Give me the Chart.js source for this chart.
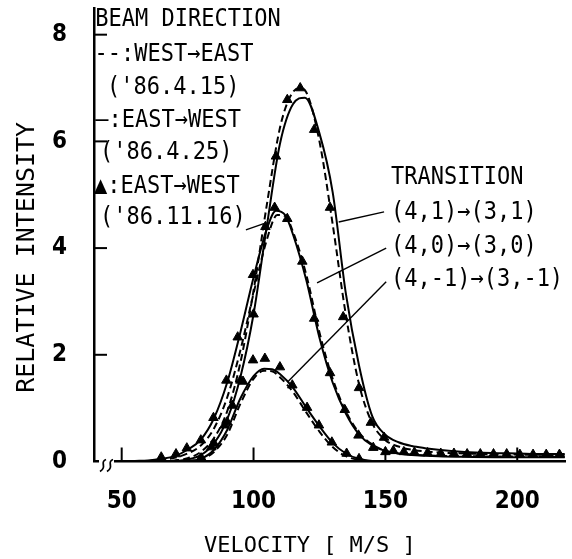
<!DOCTYPE html>
<html><head><meta charset="utf-8">
<script src="https://cdn.jsdelivr.net/npm/chart.js@4"></script>
<style>html,body{margin:0;padding:0;background:#fff}canvas{display:block}</style>
</head><body>
<canvas id="c" width="572" height="559"></canvas>
<script>
// ---- tick labels / titles ----
const xTicks = [50, 100, 150, 200];
const yTicks = [0, 2, 4, 6, 8];
const xTitle = 'VELOCITY [ M/S ]';
const yTitle = 'RELATIVE INTENSITY';

// ---- (4,1)->(3,1) ----
const dashed41 = [[65,0],[70,0.02],[75,0.06],[80,0.18],[85,0.44],[90,0.94],[95,1.85],[100,3.2],[105,4.8],[110,6.25],[114,6.85],[117.5,7.0],[120,6.92],[125,6.0],[130,4.45],[135,2.75],[140,1.45],[145,0.72],[150,0.4],[155,0.28],[160,0.22],[170,0.17],[180,0.15],[190,0.14],[200,0.13],[218,0.12]];
const solid41 = [[65,0],[70,0.01],[75,0.04],[80,0.12],[85,0.34],[90,0.79],[95,1.58],[100,2.76],[105,4.4],[110,5.95],[115,6.7],[119.5,6.82],[125,6.15],[130,5.05],[135,3.15],[140,1.8],[145,0.85],[150,0.5],[155,0.36],[160,0.29],[165,0.25],[170,0.22],[180,0.18],[190,0.16],[200,0.15],[210,0.14],[218,0.14]];
const tri41 = [[80,0.06],[85,0.34],[90,0.74],[95,1.52],[100,2.76],[104.5,4.4],[108.5,5.72],[112.8,6.78],[117.7,7.0],[123,6.22],[129,4.76],[134,2.71],[140,1.38],[144.5,0.73],[149.5,0.45],[153,0.2],[157,0.18],[161,0.17],[166,0.16],[171,0.15],[176,0.15],[181,0.14],[186,0.14],[191,0.14],[196,0.14],[201,0.13],[206,0.13],[211,0.13],[216,0.13]];

// ---- (4,0)->(3,0) ----
const dashed40 = [[60,0.01],[65,0.03],[70,0.07],[75,0.15],[80,0.3],[85,0.62],[90,1.2],[95,2.08],[100,3.15],[105,4.15],[109,4.62],[112,4.6],[115,4.3],[120,3.5],[125,2.42],[130,1.55],[135,0.94],[140,0.54],[145,0.32],[150,0.2],[160,0.13],[180,0.1],[218,0.09]];
const solid40 = [[55,0.01],[60,0.02],[65,0.05],[70,0.1],[75,0.22],[80,0.41],[85,0.81],[90,1.48],[95,2.42],[100,3.45],[105,4.35],[108.5,4.7],[112,4.62],[115,4.25],[120,3.4],[125,2.32],[130,1.48],[135,0.9],[140,0.51],[145,0.3],[150,0.2],[155,0.15],[160,0.12],[170,0.1],[180,0.09],[200,0.08],[218,0.08]];
const tri40 = [[65,0.08],[70.6,0.14],[74.7,0.25],[80,0.4],[84.8,0.82],[89.7,1.52],[94,2.33],[99.8,3.5],[108,4.76],[112.8,4.55],[118.5,3.75],[123,2.68],[129,1.66],[134.6,0.97],[139.8,0.49],[145.4,0.26],[150,0.18]];

// ---- (4,-1)->(3,-1) ----
const dashed4m1 = [[75,0.01],[80,0.04],[85,0.18],[90,0.5],[95,1.08],[100,1.55],[104,1.7],[107,1.69],[110,1.58],[115,1.3],[120,0.92],[125,0.56],[130,0.27],[135,0.1],[140,0.03],[145,0]];
const solid4m1 = [[75,0.01],[80,0.05],[85,0.22],[90,0.59],[95,1.18],[100,1.6],[104,1.74],[107,1.73],[110,1.64],[115,1.38],[120,1.01],[125,0.66],[130,0.35],[135,0.15],[140,0.05],[145,0.01],[150,0]];
const tri4m1 = [[80.3,0.06],[84,0.27],[89,0.68],[92,1.05],[96,1.5],[99.8,1.9],[104.3,1.93],[110,1.77],[114.7,1.43],[120.3,1.01],[124.8,0.68],[129.7,0.36],[135.3,0.15],[140,0.05]];

// ---- annotation texts (text, x, y in data units) ----
const legendNotes = [
  ['BEAM DIRECTION', 40, 8.28],
  ['--:WEST→EAST', 39.7, 7.63],
  ["('86.4.15)", 44.4, 7.0],
  ['—:EAST→WEST', 40, 6.39],
  ["('86.4.25)", 41.8, 5.79],
  ['▲:EAST→WEST', 39.5, 5.16],
  ["('86.11.16)", 41.8, 4.57]
];
const transitionNotes = [
  ['TRANSITION', 152.1, 5.32],
  ['(4,1)→(3,1)', 152.1, 4.66],
  ['(4,0)→(3,0)', 152.1, 4.02],
  ['(4,-1)→(3,-1)', 152.1, 3.41]
];
const leaderLines = [
  [149.5, 4.68, 132.3, 4.49],
  [150.3, 4.0, 124.1, 3.35],
  [150.3, 3.37, 112.9, 1.49],
  [97.1, 4.34, 103.9, 4.46]
];

const NARROW = '"Liberation Sans Narrow", "DejaVu Sans Condensed", "Liberation Sans", sans-serif';
const MONO = '"DejaVu Sans Mono", "Liberation Mono", monospace';

const toPts = a => a.map(([x, y]) => ({x, y}));
const lineDs = (label, arr, dashed) => ({
  label, data: toPts(arr), showLine: true, borderColor: '#000', borderWidth: 2,
  borderDash: dashed ? [7, 4] : [], pointRadius: 0, pointHoverRadius: 0,
  cubicInterpolationMode: 'monotone', fill: false
});
const triDs = (label, arr) => ({
  label, data: toPts(arr), showLine: false, pointStyle: 'triangle', pointRadius: 5.5,
  backgroundColor: '#000', borderColor: '#000', borderWidth: 1
});

const decor = {
  id: 'decor',
  afterDraw(chart) {
    const {ctx, chartArea: a, scales: {x, y}} = chart;
    ctx.save();
    ctx.strokeStyle = '#000';
    ctx.fillStyle = '#000';
    ctx.lineWidth = 2;
    // inward tick marks
    yTicks.filter(v => v > 0).forEach(v => {
      const py = y.getPixelForValue(v);
      ctx.beginPath(); ctx.moveTo(a.left, py); ctx.lineTo(a.left + 13, py); ctx.stroke();
    });
    xTicks.forEach(v => {
      const px = x.getPixelForValue(v);
      ctx.beginPath(); ctx.moveTo(px, a.bottom); ctx.lineTo(px, a.bottom - 14); ctx.stroke();
    });
    // axis break
    ctx.fillStyle = '#fff';
    ctx.fillRect(a.left + 5, a.bottom - 3, 15, 6);
    ctx.fillStyle = '#000';
    ctx.lineWidth = 1.8;
    [a.left + 9, a.left + 16].forEach(x0 => {
      ctx.beginPath();
      ctx.moveTo(x0 + 3, a.bottom - 2);
      ctx.bezierCurveTo(x0 - 4, a.bottom + 1, x0 + 5, a.bottom + 5, x0 - 3, a.bottom + 10);
      ctx.stroke();
    });
    // leader lines
    ctx.lineWidth = 1.4;
    leaderLines.forEach(([x1, y1, x2, y2]) => {
      ctx.beginPath();
      ctx.moveTo(x.getPixelForValue(x1), y.getPixelForValue(y1));
      ctx.lineTo(x.getPixelForValue(x2), y.getPixelForValue(y2));
      ctx.stroke();
    });
    // texts
    ctx.font = '22px ' + MONO;
    ctx.textBaseline = 'middle';
    ctx.textAlign = 'left';
    [...legendNotes, ...transitionNotes].forEach(([t, vx, vy]) => {
      ctx.save();
      ctx.translate(x.getPixelForValue(vx), y.getPixelForValue(vy));
      ctx.scale(1, 1.12);
      ctx.fillText(t, 0, 0);
      ctx.restore();
    });
    ctx.restore();
  }
};

new Chart(document.getElementById('c'), {
  type: 'scatter',
  data: {
    datasets: [
      lineDs('WEST→EAST (4,1)', dashed41, true),
      lineDs('EAST→WEST (4,1)', solid41, false),
      triDs('EAST→WEST 86.11.16 (4,1)', tri41),
      lineDs('WEST→EAST (4,0)', dashed40, true),
      lineDs('EAST→WEST (4,0)', solid40, false),
      triDs('EAST→WEST 86.11.16 (4,0)', tri40),
      lineDs('WEST→EAST (4,-1)', dashed4m1, true),
      lineDs('EAST→WEST (4,-1)', solid4m1, false),
      triDs('EAST→WEST 86.11.16 (4,-1)', tri4m1)
    ]
  },
  options: {
    responsive: false,
    animation: false,
    devicePixelRatio: 1,
    layout: {padding: {top: 8, left: 0, right: 0, bottom: 0}},
    plugins: {legend: {display: false}, tooltip: {enabled: false}},
    scales: {
      x: {
        type: 'linear', min: 39.5, max: 218.3,
        afterBuildTicks: s => { s.ticks = xTicks.map(v => ({value: v})); },
        afterFit: s => { s.height = 97.5; s.paddingLeft = 0; s.paddingRight = 0; },
        grid: {display: true, drawOnChartArea: false, drawTicks: false, color: 'rgba(0,0,0,0)'},
        border: {display: true, color: '#000', width: 2.5},
        ticks: {autoSkip: false, maxRotation: 0, padding: 26, color: '#000',
                font: {family: NARROW, size: 24, weight: 'bold'}},
        title: {display: true, text: xTitle + '   ', color: '#000',
                font: {family: MONO, size: 22}, padding: {top: 0, bottom: 0}}
      },
      y: {
        type: 'linear', min: 0, max: 8.5,
        afterBuildTicks: s => { s.ticks = yTicks.map(v => ({value: v})); },
        afterFit: s => { s.width = 94; s.paddingTop = 0; s.paddingBottom = 0; },
        grid: {display: true, drawOnChartArea: false, drawTicks: false, color: 'rgba(0,0,0,0)'},
        border: {display: true, color: '#000', width: 2.5},
        ticks: {padding: 27, color: '#000', font: {family: NARROW, size: 24, weight: 'bold'}},
        title: {display: true, text: yTitle + '   ', color: '#000',
                font: {family: MONO, size: 25}, padding: {top: 12, bottom: 0}}
      }
    }
  },
  plugins: [decor]
});
</script>
</body></html>
